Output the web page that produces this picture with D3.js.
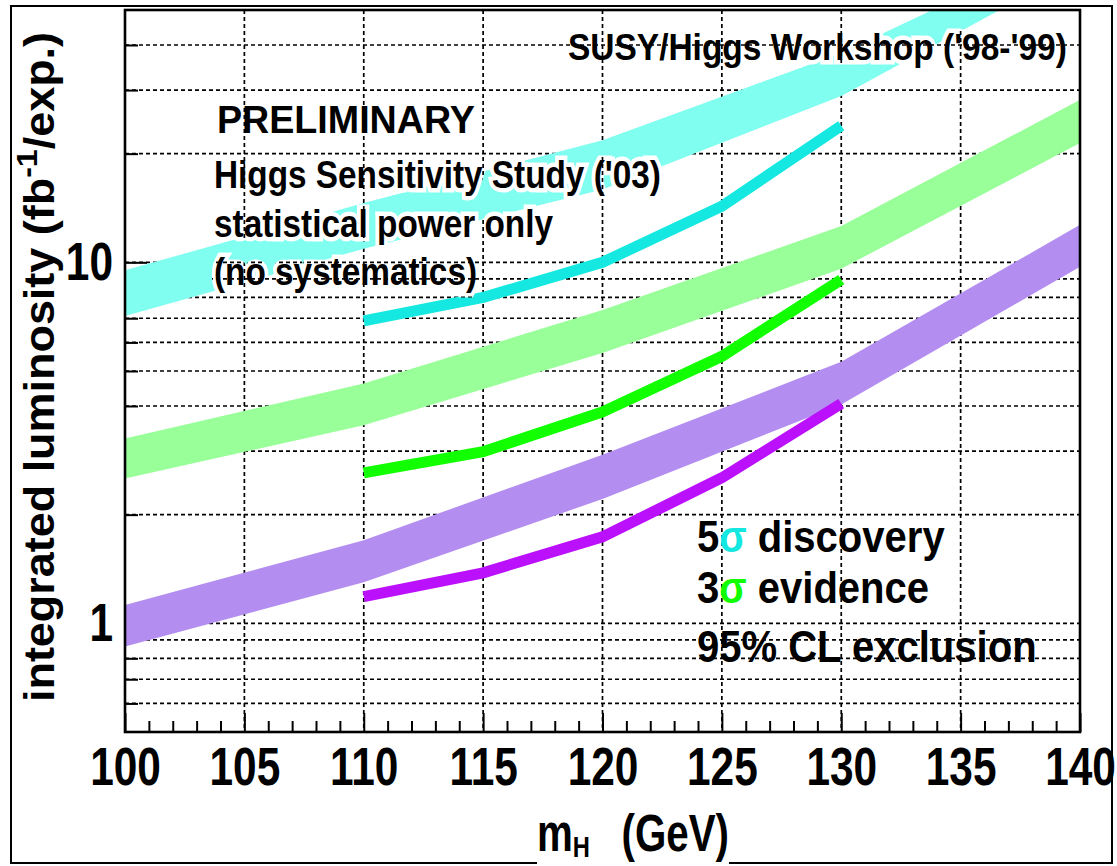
<!DOCTYPE html>
<html><head><meta charset="utf-8">
<script src="https://cdn.jsdelivr.net/npm/d3@7"></script>
<style>
body{margin:0;background:#fff}
svg text{font-family:"Liberation Sans",Arial,Helvetica,sans-serif;font-weight:bold;fill:#000}
</style>
</head><body>
<svg id="c" width="1117" height="866"></svg>
<script>
// ---------- data ----------
const massBand   = [100, 110, 120, 130, 140];
const disc5Low   = [7.1, 10.9, 15.9, 28.9, 66];
const disc5High  = [9.5, 14.6, 21.8, 38, 78];
const evid3Low   = [2.52, 3.54, 5.61, 9.6, 21.4];
const evid3High  = [3.25, 4.62, 7.38, 12.6, 28.2];
const excl95Low  = [0.862, 1.30, 2.21, 4.04, 9.72];
const excl95High = [1.124, 1.70, 2.93, 5.30, 12.7];

const massLine   = [110, 115, 120, 125, 130];
const disc5Line  = [6.88, 7.99, 10.0, 14.3, 23.9];
const evid3Line  = [2.61, 2.99, 3.85, 5.49, 8.96];
const excl95Line = [1.185, 1.38, 1.736, 2.53, 4.06];

const xTickLabels = [100, 105, 110, 115, 120, 125, 130, 135, 140];
const yTickLabels = [1, 10];

const titleTop   = "SUSY/Higgs Workshop ('98-'99)";
const prelimText = "PRELIMINARY";
const studyLines = ["Higgs Sensitivity Study ('03)", "statistical power only", "(no systematics)"];
const legendRows = [["5", "σ", " discovery"], ["3", "σ", " evidence"], ["95% CL exclusion", "", ""]];

// ---------- styles ----------
const C = {
  bandCyan: "#80fff0", lineCyan: "#14e8e0",
  bandGreen: "#99ff99", lineGreen: "#11ff00",
  bandPurple: "#b38ef0", linePurple: "#bb10fb"
};

const W = 1117, H = 866;
const svg = d3.select("#c");
svg.append("rect").attr("width", W).attr("height", H).attr("fill", "#fff");

const x = d3.scaleLinear().domain([100, 140]).range([125, 1080]);
const y = d3.scaleLog().domain([0.5, 50]).range([732, 10]);
const [px0, px1] = x.range(), [py1, py0] = y.range();

const defs = svg.append("defs");
defs.append("clipPath").attr("id", "plotClip").append("rect")
  .attr("x", px0).attr("y", py0).attr("width", px1 - px0).attr("height", py1 - py0);
const mask = defs.append("mask").attr("id", "textMask").attr("maskUnits", "userSpaceOnUse")
  .attr("x", 0).attr("y", 0).attr("width", W).attr("height", H);
mask.append("rect").attr("width", W).attr("height", H).attr("fill", "#fff");

// ---------- grid ----------
const gridY = y.ticks().filter(v => v > 0.5 + 1e-9 && v < 50 - 1e-9);
const gridX = x.ticks(8).filter(v => v > 100 && v < 140);
const grid = svg.append("g").attr("stroke", "#000").attr("stroke-width", 1.7).attr("stroke-dasharray", "4,3");
grid.selectAll("line.h").data(gridY).join("line").attr("class", "h")
  .attr("x1", px0).attr("x2", px1).attr("y1", d => y(d)).attr("y2", d => y(d));
grid.selectAll("line.v").data(gridX).join("line").attr("class", "v")
  .attr("y1", py0).attr("y2", py1).attr("x1", d => x(d)).attr("x2", d => x(d));

// ---------- axes ticks ----------
const xMinor = x.ticks(40).filter(d => d % 5 !== 0);
const gxMinor = svg.append("g").attr("transform", `translate(0,${py1})`)
  .call(d3.axisBottom(x).tickValues(xMinor).tickSize(-11).tickFormat(""));
const gx = svg.append("g").attr("transform", `translate(0,${py1})`)
  .call(d3.axisBottom(x).tickValues(xTickLabels).tickSize(-19).tickFormat(d3.format("d")));
gx.selectAll("text").attr("y", 53).attr("dy", null)
  .attr("font-size", 53).attr("transform", "scale(0.8,1)").attr("font-family", null);

const yMinorVals = gridY.filter(v => !yTickLabels.includes(v));
const gyMinor = svg.append("g").attr("transform", `translate(${px0},0)`)
  .call(d3.axisLeft(y).tickValues(yMinorVals).tickSize(-13).tickFormat(""));
const gy = svg.append("g").attr("transform", `translate(${px0},0)`)
  .call(d3.axisLeft(y).tickValues(yTickLabels).tickSize(-22).tickFormat(d3.format("d")));
gy.selectAll("text").attr("x", -15).attr("dy", "0.33em")
  .attr("font-size", 53).attr("transform", "scale(0.8,1)").attr("font-family", null);

[gxMinor, gx, gyMinor, gy].forEach(g => {
  g.select(".domain").remove();
  g.selectAll("line").attr("stroke", "#000").attr("stroke-width", 2);
  g.attr("font-family", null).attr("font-size", null);
});

// ---------- data marks ----------
const dataG = svg.append("g").attr("clip-path", "url(#plotClip)")
  .append("g").attr("mask", "url(#textMask)");

const area = d3.area().x(d => x(d.m)).y0(d => y(d.lo)).y1(d => y(d.hi));
const line = d3.line().x(d => x(d.m)).y(d => y(d.v));
const bands = [
  [excl95Low, excl95High, C.bandPurple],
  [evid3Low, evid3High, C.bandGreen],
  [disc5Low, disc5High, C.bandCyan]
];
bands.forEach(([lo, hi, col]) => {
  const pts = massBand.map((m, i) => ({m, lo: lo[i], hi: hi[i]}));
  dataG.append("path").attr("d", area(pts)).attr("fill", col);
});
const lines = [[disc5Line, C.lineCyan], [evid3Line, C.lineGreen], [excl95Line, C.linePurple]];
lines.forEach(([vals, col]) => {
  const pts = massLine.map((m, i) => ({m, v: vals[i]}));
  dataG.append("path").attr("d", line(pts)).attr("fill", "none").attr("stroke", col)
    .attr("stroke-width", 11).attr("stroke-linecap", "butt").attr("stroke-linejoin", "miter");
});

// ---------- frames ----------
svg.append("rect").attr("x", px0).attr("y", py0).attr("width", px1 - px0).attr("height", py1 - py0)
  .attr("fill", "none").attr("stroke", "#000").attr("stroke-width", 2.6);
svg.append("rect").attr("x", 11).attr("y", 6).attr("width", 1101).attr("height", 857)
  .attr("fill", "none").attr("stroke", "#000").attr("stroke-width", 2);

// ---------- text helper ----------
function addText(x0, y0, size, sx, parts, opts = {}) {
  const g = svg.append("g").attr("transform", `translate(${x0},${y0})${opts.rotate ? " rotate(" + opts.rotate + ")" : ""} scale(${sx},1)`);
  const t = g.append("text").attr("font-size", size).attr("text-anchor", opts.anchor || "start");
  parts.forEach(p => {
    if (!p.t) return;
    const ts = t.append("tspan").text(p.t);
    if (p.fill) ts.style("fill", p.fill);
    if (p.size) ts.attr("font-size", p.size);
    if (p.dy) ts.attr("dy", p.dy);
    if (p.dx) ts.attr("dx", p.dx);
  });
  const bb = t.node().getBBox();
  if (opts.halo) {
    // glyph-shaped hole in the bands around this text (grid stays visible)
    const clone = g.node().cloneNode(true);
    mask.node().appendChild(clone);
    d3.select(clone).selectAll("text, tspan")
      .style("fill", "#000").attr("stroke", "#000").attr("stroke-width", opts.halo)
      .attr("stroke-linejoin", "miter");
  }
  return {g, t, bb};
}

// annotations
addText(568, 60, 37, 0.905, [{t: titleTop}], {halo: 9});
addText(217, 133, 39, 0.965, [{t: prelimText}], {halo: 9});
const studyBase = [188, 237, 285];
studyLines.forEach((s, i) => addText(214, studyBase[i], 39, 0.855, [{t: s}], {halo: 9}));

// legend
const legBase = [552, 603, 662];
const sigCol = [C.lineCyan, C.lineGreen, null];
legendRows.forEach((r, i) => addText(697, legBase[i], 44, 0.91,
  [{t: r[0]}, {t: r[1], fill: sigCol[i]}, {t: r[2]}]));

// axis titles
const xt = addText(537, 851, 51, 0.79, [
  {t: "m"}, {t: "H", size: 30, dy: 6}, {t: "(GeV)", dy: -6, dx: 40}
]);
xt.g.insert("rect", "text").attr("x", xt.bb.x).attr("y", 0).attr("width", xt.bb.width).attr("height", 15).attr("fill", "#fff");

addText(54, 367, 42, 1.07, [
  {t: "integrated luminosity (fb"}, {t: "-1", size: 30, dy: -17}, {t: "/exp.)", dy: 17}
], {rotate: -90, anchor: "middle"});
</script>
</body></html>
